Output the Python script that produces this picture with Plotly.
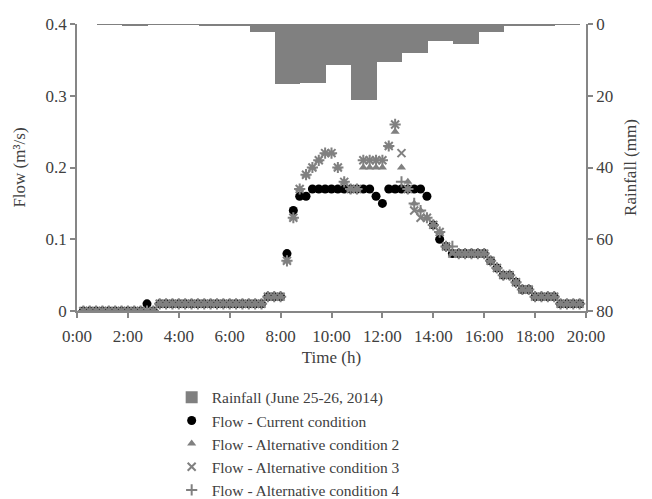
import plotly.graph_objects as go

# ---------------- data ----------------
rain_hour = [1, 2, 3, 4, 5, 6, 7, 8, 9, 10, 11, 12, 13, 14, 15, 16, 17, 18, 19]
rain_mm = [0.1, 0.6, 0.2, 0.1, 0.3, 0.3, 2.3, 16.7, 16.4, 11.5, 21.2, 10.5,
           8.0, 4.6, 5.6, 2.1, 0.5, 0.3, 0.2]

times = ["0:15", "0:30", "0:45", "1:00", "1:15", "1:30", "1:45", "2:00", "2:15", "2:30",
         "2:45", "3:00", "3:15", "3:30", "3:45", "4:00", "4:15", "4:30", "4:45", "5:00",
         "5:15", "5:30", "5:45", "6:00", "6:15", "6:30", "6:45", "7:00", "7:15", "7:30",
         "7:45", "8:00", "8:15", "8:30", "8:45", "9:00", "9:15", "9:30", "9:45", "10:00",
         "10:15", "10:30", "10:45", "11:00", "11:15", "11:30", "11:45", "12:00", "12:15", "12:30",
         "12:45", "13:00", "13:15", "13:30", "13:45", "14:00", "14:15", "14:30", "14:45", "15:00",
         "15:15", "15:30", "15:45", "16:00", "16:15", "16:30", "16:45", "17:00", "17:15", "17:30",
         "17:45", "18:00", "18:15", "18:30", "18:45", "19:00", "19:15", "19:30", "19:45"]

flow_current = [0, 0, 0, 0, 0, 0, 0, 0, 0, 0,
                0.01, 0, 0.01, 0.01, 0.01, 0.01, 0.01, 0.01, 0.01, 0.01,
                0.01, 0.01, 0.01, 0.01, 0.01, 0.01, 0.01, 0.01, 0.01, 0.02,
                0.02, 0.02, 0.08, 0.14, 0.16, 0.16, 0.17, 0.17, 0.17, 0.17,
                0.17, 0.17, 0.17, 0.17, 0.17, 0.17, 0.16, 0.15, 0.17, 0.17,
                0.17, 0.17, 0.17, 0.17, 0.16, 0.12, 0.10, 0.09, 0.08, 0.08,
                0.08, 0.08, 0.08, 0.08, 0.07, 0.06, 0.05, 0.05, 0.04, 0.03,
                0.03, 0.02, 0.02, 0.02, 0.02, 0.01, 0.01, 0.01, 0.01]

flow_alt2 = [0, 0, 0, 0, 0, 0, 0, 0, 0, 0,
             0, 0, 0.01, 0.01, 0.01, 0.01, 0.01, 0.01, 0.01, 0.01,
             0.01, 0.01, 0.01, 0.01, 0.01, 0.01, 0.01, 0.01, 0.01, 0.02,
             0.02, 0.02, 0.07, 0.13, 0.17, 0.19, 0.20, 0.21, 0.22, 0.22,
             0.20, 0.18, 0.17, 0.17, 0.20, 0.20, 0.20, 0.20, 0.23, 0.25,
             0.20, 0.18, 0.15, 0.14, 0.13, 0.12, 0.11, 0.09, 0.08, 0.08,
             0.08, 0.08, 0.08, 0.08, 0.07, 0.06, 0.05, 0.05, 0.04, 0.03,
             0.03, 0.02, 0.02, 0.02, 0.02, 0.01, 0.01, 0.01, 0.01]

flow_alt3 = [0, 0, 0, 0, 0, 0, 0, 0, 0, 0,
             0, 0, 0.01, 0.01, 0.01, 0.01, 0.01, 0.01, 0.01, 0.01,
             0.01, 0.01, 0.01, 0.01, 0.01, 0.01, 0.01, 0.01, 0.01, 0.02,
             0.02, 0.02, 0.07, 0.13, 0.17, 0.19, 0.20, 0.21, 0.22, 0.22,
             0.20, 0.18, 0.17, 0.17, 0.21, 0.21, 0.21, 0.21, 0.23, 0.26,
             0.22, 0.17, 0.14, 0.13, 0.13, 0.12, 0.11, 0.09, 0.08, 0.08,
             0.08, 0.08, 0.08, 0.08, 0.07, 0.06, 0.05, 0.05, 0.04, 0.03,
             0.03, 0.02, 0.02, 0.02, 0.02, 0.01, 0.01, 0.01, 0.01]

flow_alt4 = [0, 0, 0, 0, 0, 0, 0, 0, 0, 0,
             0, 0, 0.01, 0.01, 0.01, 0.01, 0.01, 0.01, 0.01, 0.01,
             0.01, 0.01, 0.01, 0.01, 0.01, 0.01, 0.01, 0.01, 0.01, 0.02,
             0.02, 0.02, 0.07, 0.13, 0.17, 0.19, 0.20, 0.21, 0.22, 0.22,
             0.20, 0.18, 0.17, 0.17, 0.21, 0.21, 0.21, 0.21, 0.23, 0.26,
             0.18, 0.17, 0.15, 0.14, 0.13, 0.12, 0.11, 0.09, 0.09, 0.08,
             0.08, 0.08, 0.08, 0.08, 0.07, 0.06, 0.05, 0.05, 0.04, 0.03,
             0.03, 0.02, 0.02, 0.02, 0.02, 0.01, 0.01, 0.01, 0.01]

x_tick_vals = [0, 2, 4, 6, 8, 10, 12, 14, 16, 18, 20]
x_tick_text = ["0:00", "2:00", "4:00", "6:00", "8:00", "10:00", "12:00",
               "14:00", "16:00", "18:00", "20:00"]
y_tick_vals = [0, 0.1, 0.2, 0.3, 0.4]
y_tick_text = ["0", "0.1", "0.2", "0.3", "0.4"]
y2_tick_vals = [0, 20, 40, 60, 80]

# ---------------- helpers ----------------
def to_hours(t):
    h, m = t.split(":")
    return int(h) + int(m) / 60.0

hours = [to_hours(t) for t in times]

FONT = "Liberation Serif"
TXT = "#404040"
AX = "#868686"
GRAY = "#808080"

fig = go.Figure()

fig.add_trace(go.Bar(
    x=rain_hour, y=rain_mm, yaxis="y2", width=1, offset=-0.22,
    marker=dict(color=GRAY, line=dict(width=0)),
    name="Rainfall (June 25-26, 2014)",
))

fig.add_trace(go.Scatter(
    x=hours, y=flow_current, mode="markers", name="Flow - Current condition",
    marker=dict(symbol="circle", size=9, color="black"),
))
fig.add_trace(go.Scatter(
    x=hours, y=flow_alt2, mode="markers", name="Flow - Alternative condition 2",
    marker=dict(symbol="triangle-up", size=8, color=GRAY),
))
fig.add_trace(go.Scatter(
    x=hours, y=flow_alt3, mode="markers", name="Flow - Alternative condition 3",
    marker=dict(symbol="x-thin-open", size=8, color=GRAY, line=dict(width=2, color=GRAY)),
))
fig.add_trace(go.Scatter(
    x=hours, y=flow_alt4, mode="markers", name="Flow - Alternative condition 4",
    marker=dict(symbol="cross-thin-open", size=8, color=GRAY, line=dict(width=2, color=GRAY)),
))

axis_common = dict(
    showline=True, linecolor=AX, linewidth=1.5, showgrid=False, zeroline=False,
    ticks="outside", ticklen=5, tickwidth=1.5, tickcolor=AX,
    tickfont=dict(family=FONT, size=17, color=TXT),
)

fig.update_layout(
    width=652, height=499,
    margin=dict(l=77, r=66, t=24, b=188, autoexpand=False),
    paper_bgcolor="white", plot_bgcolor="white",
    font=dict(family=FONT, size=16, color=TXT),
    bargap=0,
    xaxis=dict(range=[0, 20], tickvals=x_tick_vals, ticktext=x_tick_text,
               ticklabelstandoff=4,
               title=dict(text="Time (h)", font=dict(family=FONT, size=17, color=TXT), standoff=6),
               **axis_common),
    yaxis=dict(range=[0, 0.4], tickvals=y_tick_vals, ticktext=y_tick_text,
               title=dict(text="Flow (m³/s)", font=dict(family=FONT, size=17, color=TXT), standoff=16),
               **axis_common),
    yaxis2=dict(range=[80, 0], tickvals=y2_tick_vals, overlaying="y", side="right",
                title=dict(text="Rainfall (mm)", font=dict(family=FONT, size=17, color=TXT), standoff=12),
                **axis_common),
    showlegend=True,
    legend=dict(x=0.186, xanchor="left", y=-0.243, yanchor="top",
                font=dict(family=FONT, size=15.5, color=TXT),
                bgcolor="rgba(0,0,0,0)", tracegroupgap=0, itemwidth=30),
)

fig.write_html("out.html")
